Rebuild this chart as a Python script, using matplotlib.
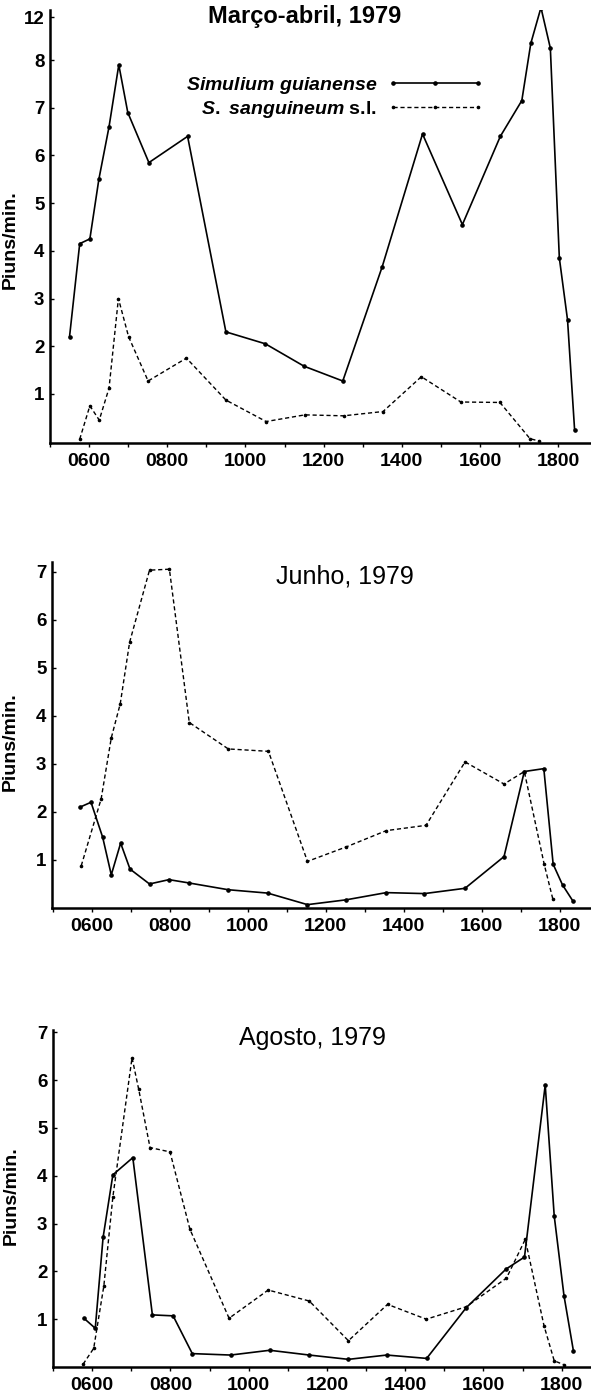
import matplotlib.pyplot as plt

plt.rcParams['font.family'] = ['Liberation Sans', 'DejaVu Sans']
plt.rcParams['mathtext.fontset'] = 'custom'
plt.rcParams['mathtext.it'] = 'Liberation Sans:italic:bold'
plt.rcParams['mathtext.rm'] = 'Liberation Sans:bold'

# hours of day (decimal) and biting rate (piuns/min)
# Março-abril 1979 (values above 8 are on the compressed top of the axis, labelled 12)
mar_gui_h = [5.5, 5.76, 6.02, 6.25, 6.51, 6.76, 6.99, 7.53, 8.52, 9.5, 10.51, 11.5, 12.49,
             13.5, 14.53, 15.55, 16.52, 17.07, 17.3, 17.56, 17.8, 18.03, 18.24, 18.42]
mar_gui_v = [2.2, 4.15, 4.25, 5.5, 6.6, 7.9, 6.9, 5.85, 6.4, 2.3, 2.05, 1.58, 1.27,
             3.67, 6.45, 4.55, 6.4, 7.15, 8.35, 9.1, 8.25, 3.85, 2.55, 0.25]
mar_san_h = [5.76, 6.02, 6.26, 6.51, 6.75, 7.01, 7.51, 8.49, 9.5, 10.53, 11.52, 12.51,
             13.52, 14.5, 15.51, 16.51, 17.28, 17.52]
mar_san_v = [0.05, 0.75, 0.45, 1.12, 3.0, 2.2, 1.27, 1.75, 0.87, 0.42, 0.56, 0.54,
             0.63, 1.36, 0.83, 0.82, 0.06, 0.01]

# Junho 1979
jun_gui_h = [5.7, 5.98, 6.28, 6.5, 6.74, 6.98, 7.48, 7.98, 8.5, 9.5, 10.51, 11.53, 12.52,
             13.55, 14.53, 15.57, 16.57, 17.09, 17.59, 17.83, 18.07, 18.34]
jun_gui_v = [2.1, 2.2, 1.47, 0.69, 1.35, 0.81, 0.5, 0.59, 0.52, 0.38, 0.31, 0.07, 0.17,
             0.32, 0.3, 0.41, 1.07, 2.84, 2.9, 0.91, 0.48, 0.14]
jun_san_h = [5.73, 6.24, 6.5, 6.73, 6.97, 7.48, 7.99, 8.5, 9.5, 10.53, 11.53, 12.52,
             13.55, 14.57, 15.57, 16.57, 17.09, 17.6, 17.82]
jun_san_v = [0.88, 2.27, 3.54, 4.25, 5.53, 7.03, 7.05, 3.86, 3.31, 3.26, 0.97, 1.27,
             1.61, 1.72, 3.04, 2.58, 2.84, 0.91, 0.19]

# Agosto 1979
ago_gui_h = [5.79, 6.08, 6.28, 6.53, 7.04, 7.54, 8.07, 8.56, 9.54, 10.54, 11.55, 12.55,
             13.53, 14.55, 15.56, 16.58, 17.05, 17.58, 17.81, 18.06, 18.3]
ago_gui_v = [1.02, 0.81, 2.71, 4.02, 4.38, 1.09, 1.07, 0.28, 0.25, 0.35, 0.25, 0.16,
             0.25, 0.18, 1.24, 2.05, 2.3, 5.9, 3.16, 1.49, 0.34]
ago_san_h = [5.77, 6.04, 6.3, 6.53, 7.02, 7.19, 7.48, 7.99, 8.5, 9.5, 10.5, 11.55, 12.55,
             13.55, 14.54, 15.56, 16.59, 17.07, 17.55, 17.81, 18.05]
ago_san_v = [0.06, 0.39, 1.7, 3.56, 6.47, 5.81, 4.59, 4.5, 2.88, 1.02, 1.61, 1.38, 0.55,
             1.31, 1.0, 1.26, 1.86, 2.67, 0.86, 0.13, 0.05]

titles = ['Março-abril, 1979', 'Junho, 1979', 'Agosto, 1979']
xtick_hours = [6, 8, 10, 12, 14, 16, 18]
xtick_labels = ['0600', '0800', '1000', '1200', '1400', '1600', '1800']
mar_ytick_vals = [1, 2, 3, 4, 5, 6, 7, 8, 8.9]
mar_ytick_labels = ['1', '2', '3', '4', '5', '6', '7', '8', '12']
ytick_vals = [1, 2, 3, 4, 5, 6, 7]

label_gui = r'$\mathit{Simulium\ guianense}$'
label_san = r'$\mathit{S.\ sanguineum}$ s.l.'

W, H = 591, 1393
fig = plt.figure(figsize=(W / 100, H / 100), dpi=100)


def make_axes(left, top, right, bottom):
    return fig.add_axes([left / W, 1 - bottom / H, (right - left) / W, (bottom - top) / H])


def draw(ax, gh, gv, sh, sv):
    ax.plot(gh, gv, '-', color='black', lw=1.2, marker='o', ms=2.3, label=label_gui)
    ax.plot(sh, sv, '--', color='black', lw=1.0, dashes=(3, 2), marker='o', ms=1.6,
            label=label_san)


def style(ax, xlim, ylim, yt, ytl, title, tx, ty, title_weight, title_size, ylab_xy):
    ax.set_xlim(*xlim)
    ax.set_ylim(*ylim)
    for s in ['top', 'right']:
        ax.spines[s].set_visible(False)
    for s in ['left', 'bottom']:
        ax.spines[s].set_linewidth(1.8)
    ax.set_xticks(xtick_hours)
    ax.set_xticklabels(xtick_labels, fontsize=14, fontweight='bold')
    ax.set_xticks(range(5, 19), minor=True)
    ax.set_yticks(yt)
    ax.set_yticklabels(ytl, fontsize=13.5, fontweight='bold')
    ax.tick_params(axis='x', which='both', direction='out', length=3, width=1, pad=4)
    ax.tick_params(axis='y', direction='in', length=3, width=1, pad=4)
    ax.set_ylabel('Piuns/min.', fontsize=14, fontweight='bold')
    ax.yaxis.set_label_coords(*ylab_xy)
    ax.text(tx, ty, title, transform=ax.transAxes, ha='center', va='center',
            fontsize=title_size, fontweight=title_weight)


ax1 = make_axes(50, 10, 591, 443)
draw(ax1, mar_gui_h, mar_gui_v, mar_san_h, mar_san_v)
style(ax1, (5.06, 18.84), (-0.03, 9.05), mar_ytick_vals, mar_ytick_labels,
      titles[0], 0.47, 0.984, 'bold', 17, (-0.058, 0.47))
ax1.legend(loc='upper right', bbox_to_anchor=(0.82, 0.872), frameon=False,
           markerfirst=False, numpoints=3, handlelength=5.0, handletextpad=0.5,
           labelspacing=0.15, borderpad=0, prop={'size': 14, 'weight': 'bold'})

ax2 = make_axes(52, 562, 591, 908)
draw(ax2, jun_gui_h, jun_gui_v, jun_san_h, jun_san_v)
style(ax2, (4.98, 18.8), (0, 7.2), ytick_vals, [str(v) for v in ytick_vals],
      titles[1], 0.544, 0.957, 'normal', 18, (-0.062, 0.48))

ax3 = make_axes(53, 1030, 591, 1367)
draw(ax3, ago_gui_h, ago_gui_v, ago_san_h, ago_san_v)
style(ax3, (5.07, 18.75), (0, 7.05), ytick_vals, [str(v) for v in ytick_vals],
      titles[2], 0.483, 0.976, 'normal', 18, (-0.062, 0.51))

fig.savefig('out.png', dpi=100, facecolor='white')
